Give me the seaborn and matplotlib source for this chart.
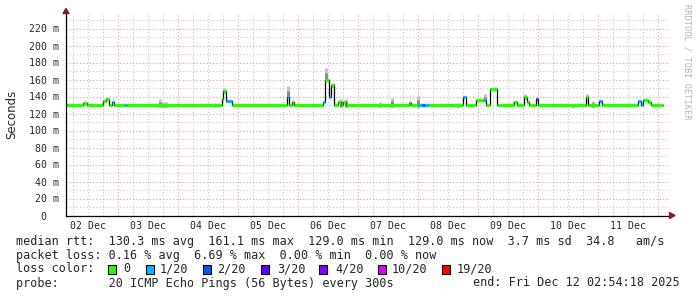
import numpy as np
import pandas as pd
import matplotlib
matplotlib.use("Agg")
import matplotlib.pyplot as plt
import seaborn as sns
from matplotlib.patches import Rectangle, Polygon

# ---------------- data (hours since 02 Dec 00:00) ----------------
change_hours = [2.8, 10.0, 11.6, 18.0, 19.2, 20.4, 21.6, 22.4, 26.8, 27.6,
                65.6, 66.0, 67.2, 69.6, 91.6, 92.4, 93.6, 94.4, 106.0, 106.8,
                108.4, 109.2, 110.4, 112.0, 113.2, 114.0, 115.2, 140.4, 141.2, 144.0,
                145.6, 146.8, 148.4, 162.0, 163.2, 167.2, 170.4, 171.2, 172.8, 175.6,
                182.4, 183.6, 186.4, 187.6, 188.4, 191.2, 192.0, 211.2, 212.0, 216.4,
                217.6, 232.0, 233.2, 234.0, 236.0, 237.2, 242.0]
median_ms = [129.5, 132, 129.5, 135, 137, 129.5, 134, 129.5, 129.5, 129.5,
             137, 146, 134.5, 129.5, 140, 129.5, 133, 129.5, 134, 160,
             139, 153, 129.5, 133, 129.5, 134, 129.5, 132, 129.5, 129.5,
             129.5, 129.5, 129.5, 140, 129.5, 136, 136, 129.5, 149, 129.5,
             134, 129.5, 139, 134, 129.5, 137, 129.5, 139, 129.5, 134.5,
             129.5, 134.5, 129.5, 136, 133, 129.5, 129.5]
loss_count = [0, 0, 0, 0, 0, 0, 1, 0, 1, 0,
              0, 0, 1, 0, 1, 0, 0, 0, 1, 0,
              1, 0, 0, 0, 0, 0, 0, 0, 0, 1,
              2, 1, 0, 1, 0, 0, 1, 0, 0, 0,
              0, 0, 0, 0, 0, 2, 0, 0, 0, 1,
              0, 1, 1, 0, 0, 0, 0]

smoke_hours = [10.4, 40.8, 42.0, 43.2, 66.4, 92.0, 94.0, 107.2, 110.0, 113.2,
               115.2, 128.8, 133.6, 140.8, 144.0, 160.0, 170.8, 182.4, 186.8, 206.0,
               211.6, 214.0]
smoke_top = [134, 137, 133, 133, 150, 152, 134.5, 173, 156, 137,
             136.5, 134, 138.5, 134.5, 140.5, 132, 143.5, 135, 142.5, 131,
             142.5, 134.5]

loss_levels = [0, 1, 2, 3, 4, 10, 19]
loss_labels = ["0", "1/20", "2/20", "3/20", "4/20", "10/20", "19/20"]
loss_colors = ["#26ff00", "#00b8ff", "#0059ff", "#5e00ff", "#7e00ff", "#dd00ff", "#ff0000"]

day_labels = ["02 Dec", "03 Dec", "04 Dec", "05 Dec", "06 Dec",
              "07 Dec", "08 Dec", "09 Dec", "10 Dec", "11 Dec"]
ytick_vals = [0, 20, 40, 60, 80, 100, 120, 140, 160, 180, 200, 220]

line1 = "median rtt:  130.3 ms avg  161.1 ms max  129.0 ms min  129.0 ms now  3.7 ms sd  34.8   am/s"
line2 = "packet loss: 0.16 % avg  6.69 % max  0.00 % min  0.00 % now"
line3 = "loss color:"
line4 = "probe:       20 ICMP Echo Pings (56 Bytes) every 300s"
line4r = "end: Fri Dec 12 02:54:18 2025"
watermark = "RRDTOOL / TOBI OETIKER"

# ---------------- figure ----------------
sns.set_style("white")
W, H = 697, 297
fig = plt.figure(figsize=(W / 100, H / 100), dpi=100)
fig.patch.set_facecolor("white")


def fx(px):
    return px / W


def fy(py):
    return 1 - py / H


ax_l, ax_r, ax_t, ax_b = 66, 670, 13, 215.5
ax = fig.add_axes([fx(ax_l), fy(ax_b), (ax_r - ax_l) / W, (ax_b - ax_t) / H])
ax.set_facecolor("white")
x0 = (ax_l - 58) * 0.4
x1 = (ax_r - 58) * 0.4
ax.set_xlim(x0, x1)
ax.set_ylim(0, (ax_b - ax_t) / 0.85)

# grid
dots = (0, (1, 2))
for h in range(6, 246, 6):
    if h <= x0 or h >= x1:
        continue
    if h % 24 == 0:
        ax.axvline(h, color="#eb9a9a", ls=dots, lw=0.8, zorder=0)
    else:
        ax.axvline(h, color="#c8c8c8", ls=dots, lw=0.8, zorder=0)
for v in range(10, 240, 10):
    if v % 20 == 0:
        ax.axhline(v, color="#eb9a9a", ls=dots, lw=0.8, zorder=0)
    else:
        ax.axhline(v, color="#c8c8c8", ls=dots, lw=0.8, zorder=0)

# smoke
ch = np.array(change_hours)
med = np.array(median_ms, dtype=float)
sh = np.array(smoke_hours)
st = np.array(smoke_top, dtype=float)
idx = np.searchsorted(ch, sh, side="right") - 1
base = med[idx] - 1.5
ax.vlines(sh, base, st, color="#c4c4c4", lw=2.2, zorder=1)
ax.vlines(sh, base, base + 0.6 * (st - base), color="#8c8c8c", lw=2.2, zorder=1)

# median line (black steps) through seaborn
df = pd.DataFrame({"hour": change_hours, "ms": median_ms})
sns.lineplot(data=df, x="hour", y="ms", ax=ax, color="black", lw=0.9,
             drawstyle="steps-post", estimator=None, zorder=2)

# coloured median segments by loss
color_of = dict(zip(loss_levels, loss_colors))
for i in range(len(change_hours) - 1):
    ax.hlines(median_ms[i], change_hours[i], change_hours[i + 1],
              color=color_of[loss_count[i]], lw=2.4, zorder=3)

# axes styling
for s in ["top", "right"]:
    ax.spines[s].set_visible(False)
for s in ["left", "bottom"]:
    ax.spines[s].set_color("black")
    ax.spines[s].set_linewidth(0.9)
    ax.spines[s].set_zorder(4)

ax.set_yticks(ytick_vals)
ax.set_yticklabels([f"{v} m" if v else "0  " for v in ytick_vals],
                   family="DejaVu Sans Mono", fontsize=7.1)
ax.tick_params(axis="y", length=2.5, width=0.7, color="#505050", pad=2.5)

day_bounds = [24 * k for k in range(1, 11)]
ax.set_xticks(day_bounds)
ax.set_xticklabels([""] * len(day_bounds))
ax.tick_params(axis="x", which="major", length=2, width=0.8, color="#d04040")
noons = [12 + 24 * k for k in range(10)]
ax.set_xticks(noons, minor=True)
ax.set_xticklabels(day_labels, minor=True, family="DejaVu Sans Mono", fontsize=7.1)
ax.tick_params(axis="x", which="minor", length=0, pad=4)
ax.set_xlabel("")
ax.set_ylabel("")

# arrows
arrow_c = "#7f1f1f"
fig.patches.append(Polygon([(fx(63), fy(13.5)), (fx(69), fy(13.5)), (fx(66), fy(8.5))],
                           closed=True, transform=fig.transFigure, color=arrow_c))
fig.patches.append(Polygon([(fx(669.5), fy(212.5)), (fx(669.5), fy(218.5)), (fx(675), fy(215.5))],
                           closed=True, transform=fig.transFigure, color=arrow_c))

# y label
fig.text(fx(11.5), fy(114), "Seconds", rotation=90, ha="center", va="center",
         fontsize=8.5, family="DejaVu Sans")

# watermark
fig.text(fx(687), fy(4), watermark, rotation=270, ha="center", va="top",
         fontsize=6.2, family="DejaVu Sans Mono", color="#b4b4b4")

# legend / stats text
mono = dict(family="DejaVu Sans Mono", fontsize=8.5, va="center", ha="left")
fig.text(fx(16), fy(241), line1, **mono)
fig.text(fx(16), fy(255), line2, **mono)
fig.text(fx(16), fy(269), line3, **mono)
fig.text(fx(16), fy(283), line4, **mono)
fig.text(fx(680), fy(283), line4r, family="DejaVu Sans Mono", fontsize=8.5,
         va="center", ha="right")

sq_left = [108, 146, 203, 261, 319, 378, 442]
lab_left = [123, 160, 217, 277, 335, 392, 457]
for c, lab, sx, tx in zip(loss_colors, loss_labels, sq_left, lab_left):
    fig.patches.append(Rectangle((fx(sx), fy(273.5)), 8 / W, 8.5 / H,
                                 transform=fig.transFigure, facecolor=c,
                                 edgecolor="black", lw=0.8))
    fig.text(fx(tx), fy(269), lab, **mono)

fig.savefig("out.png", dpi=100, facecolor="white")
